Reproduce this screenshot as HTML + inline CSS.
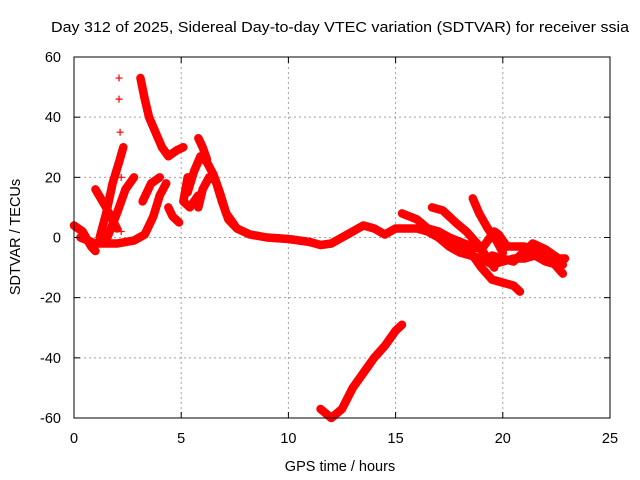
<!DOCTYPE html>
<html><head><meta charset="utf-8"><style>
body{margin:0;background:#fff}
svg{display:block;font-family:"Liberation Sans",sans-serif}
</style></head><body>
<svg id="chart" width="640" height="480" viewBox="0 0 640 480">
<rect width="640" height="480" fill="#fff"/>
<text x="340" y="32" font-size="15" text-anchor="middle" textLength="578" lengthAdjust="spacingAndGlyphs">Day 312 of 2025, Sidereal Day-to-day VTEC variation (SDTVAR) for receiver ssia</text>
<g id="grid"></g>
<g id="marks"></g>
<rect x="74" y="57" width="536" height="361" fill="none" stroke="#000" stroke-width="1"/>
<g id="ticks"></g>
<text x="340" y="471" font-size="14.5" text-anchor="middle">GPS time / hours</text>
<text transform="translate(20,237) rotate(-90)" font-size="14.5" text-anchor="middle">SDTVAR / TECUs</text>
</svg>
<script>
const xTicks=[0,5,10,15,20,25];
const yTicks=[-60,-40,-20,0,20,40,60];
const trackA=[[3.1,53],[3.3,46],[3.5,40],[3.8,35],[4.1,30],[4.4,27],[4.8,29],[5.1,30]];
const trackMain=[[5.8,10],[6.0,16],[6.3,20],[6.6,19],[6.9,12],[7.2,6],[7.6,3],[8.2,1],[9,0],[10,-0.5],[10.5,-1],[11,-1.5],[11.5,-2.5],[12,-2],[12.5,0],[13,2],[13.5,4],[14,3],[14.5,1],[15,3],[15.5,3],[16,3],[16.5,2],[17,0],[17.5,-3],[18,-5],[18.5,-6],[19,-7],[19.5,-9],[20,-8],[20.5,-7],[21,-7],[21.5,-6],[22,-8],[22.5,-9],[22.8,-9]];
const trackUpper=[[5.3,15],[5.6,22],[5.9,27],[6.2,25],[6.5,21],[6.8,15],[7.1,8],[7.5,4]];
const trackC=[[5.8,33],[6.0,30],[6.2,26]];
const trackD=[[0,4],[0.4,2],[0.8,-3],[1.0,-4.5]];
const trackE=[[0.3,0],[1,-2],[2,-2],[2.8,-1],[3.3,1],[3.7,7],[4.0,14],[4.3,18]];
const trackF=[[1.0,16],[1.5,10],[2,3]];
const trackG=[[1.2,0],[1.5,8],[1.8,18],[2.1,25],[2.3,30]];
const trackG2=[[1.5,-1],[2.0,8],[2.4,16],[2.8,20]];
const trackI=[[3.2,12],[3.6,18],[4.0,20]];
const trackJ=[[4.4,10],[4.6,7],[4.9,5]];
const trackK=[[5.3,20],[5.1,12],[5.4,10],[5.8,14]];
const trackL=[[15.3,8],[16,6],[16.5,3],[17,2],[18,-2],[18.5,-5],[19,-10],[19.5,-14],[20,-15],[20.5,-16],[20.8,-18]];
const trackM=[[16.7,10],[17.2,9],[17.8,5],[18.3,2],[18.8,-2],[19.3,-7],[19.6,-10]];
const trackN=[[18.6,13],[18.9,8],[19.3,3],[19.7,-1],[20,-5]];
const trackO=[[17.5,0],[18.2,-2],[19,-4],[19.6,2],[19.8,1],[20.2,-3],[21,-3],[21.8,-5],[22.3,-8],[22.8,-12]];
const trackP=[[19.5,-6],[20.5,-8],[21.4,-2],[22,-4],[22.6,-7],[22.9,-7]];
const trackQ=[[11.5,-57],[12,-60],[12.5,-57],[13,-50],[13.5,-45],[14,-40],[14.5,-36],[15,-31],[15.3,-29]];
const spike=[[2.2,2],[2.2,20],[2.15,35],[2.1,46],[2.1,53]];
const tracks=[trackA,trackMain,trackUpper,trackC,trackD,trackE,trackF,trackG,trackG2,trackI,trackJ,trackK,trackL,trackM,trackN,trackO,trackP,trackQ];

const X=v=>74+(v-0)*536/25;
const Y=v=>418-(v+60)*361/120;
const NS="http://www.w3.org/2000/svg";
const grid=document.getElementById('grid'),ticks=document.getElementById('ticks'),marks=document.getElementById('marks');
function mk(tag,attrs,parent){const e=document.createElementNS(NS,tag);for(const k in attrs)e.setAttribute(k,attrs[k]);parent.appendChild(e);return e;}
xTicks.forEach(t=>{
  if(t>0&&t<25){const g=mk('line',{x1:X(t),x2:X(t),y1:57,y2:418,stroke:'#a0a0a0','stroke-dasharray':'2,3'},grid);
  
  }
  mk('line',{x1:X(t),x2:X(t),y1:418,y2:412,stroke:'#000'},ticks);
  mk('line',{x1:X(t),x2:X(t),y1:57,y2:63,stroke:'#000'},ticks);
  const l=mk('text',{x:X(t),y:443,'font-size':14.5,'text-anchor':'middle'},ticks);l.textContent=t;
  
  
});
yTicks.forEach(t=>{
  if(t>-60&&t<60){const g=mk('line',{x1:74,x2:610,y1:Y(t),y2:Y(t),stroke:'#a0a0a0','stroke-dasharray':'2,3'},grid);
  
  }
  mk('line',{x1:74,x2:80,y1:Y(t),y2:Y(t),stroke:'#000'},ticks);
  mk('line',{x1:610,x2:604,y1:Y(t),y2:Y(t),stroke:'#000'},ticks);
  const l=mk('text',{x:61,y:Y(t)+5,'font-size':14.5,'text-anchor':'end'},ticks);l.textContent=t;
  
  
});
function plus(x,y){mk('path',{d:`M${x-3.5},${y}h7M${x},${y-3.5}v7`,stroke:'#f00','stroke-width':1.2},marks);}
tracks.forEach(tr=>{
  const p=mk('polyline',{points:tr.map(d=>X(d[0])+','+Y(d[1])).join(' '),fill:'none',stroke:'#f00','stroke-width':8.5,'stroke-linejoin':'round','stroke-linecap':'round'},marks);
  
  
  tr.forEach(d=>plus(X(d[0]),Y(d[1])));
});
spike.forEach(d=>plus(X(d[0]),Y(d[1])));
</script>
</body></html>
